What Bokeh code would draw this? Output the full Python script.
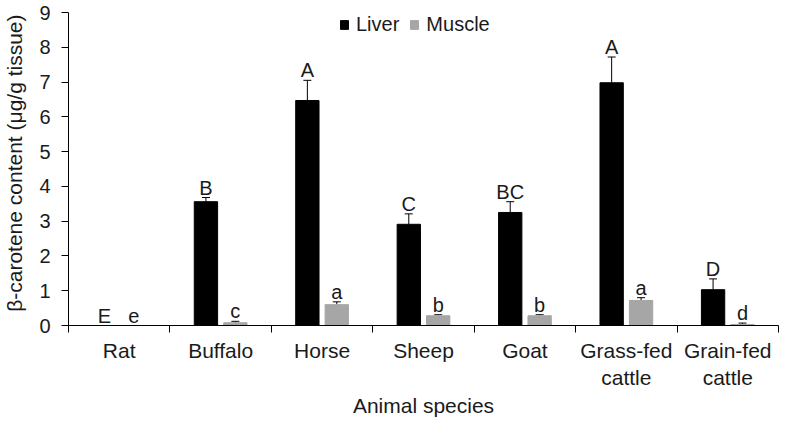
from bokeh.plotting import figure
from bokeh.models import Range1d, FixedTicker, Whisker, TeeHead, ColumnDataSource, Legend, LegendItem
from bokeh.core.properties import value
from bokeh.embed import file_html
from bokeh.resources import INLINE

species = ["Rat", "Buffalo", "Horse", "Sheep", "Goat", "Grass-fed\ncattle", "Grain-fed\ncattle"]
liver = [0.0, 3.56, 6.47, 2.91, 3.25, 6.98, 1.03]
liver_err = [0.0, 0.12, 0.58, 0.30, 0.31, 0.74, 0.31]
muscle = [0.0, 0.08, 0.60, 0.28, 0.28, 0.72, 0.03]
muscle_err = [0.0, 0.04, 0.08, 0.03, 0.03, 0.08, 0.04]
liver_letters = ["E", "B", "A", "C", "BC", "A", "D"]
muscle_letters = ["e", "c", "a", "b", "b", "a", "d"]
y_ticks = [0, 1, 2, 3, 4, 5, 6, 7, 8, 9]

FONT = "Liberation Sans"
TXT = "#1a1a1a"
GRAY = "#a6a6a6"
OFF = 0.145
W = 0.23

n = len(species)
centers = [i + 0.5 for i in range(n)]
bounds = [i for i in range(0, n + 1)]
xl = [c - OFF for c in centers]
xm = [c + OFF for c in centers]

p = figure(frame_width=710, frame_height=313, x_range=Range1d(0, n), y_range=Range1d(0, 9),
           output_backend="svg", toolbar_location=None,
           min_border_left=65, min_border_right=3, min_border_top=12, min_border_bottom=80)
p.outline_line_color = None
p.xgrid.grid_line_color = None
p.ygrid.grid_line_color = None

src_l = ColumnDataSource(dict(x=xl, top=liver, up=[a + b for a, b in zip(liver, liver_err)],
                              lab=liver_letters))
src_m = ColumnDataSource(dict(x=xm, top=muscle, up=[a + b for a, b in zip(muscle, muscle_err)],
                              lab=muscle_letters))

rl = p.vbar(x="x", top="top", width=W, source=src_l, fill_color="black", line_color="black")
rm = p.vbar(x="x", top="top", width=W, source=src_m, fill_color=GRAY, line_color=GRAY)

for src in (src_l, src_m):
    w = Whisker(base="x", lower="top", upper="up", source=src, dimension="height",
                line_color="black", line_width=1,
                upper_head=TeeHead(size=8, line_color="black", line_width=1), lower_head=None)
    p.add_layout(w)

for src in (src_l, src_m):
    p.text(x="x", y="up", text="lab", source=src, text_font=value(FONT), text_font_size="20px",
           text_align="center", text_baseline="alphabetic", y_offset=-10, text_color=TXT)

xa = p.xaxis[0]
xa.ticker = FixedTicker(ticks=centers, minor_ticks=bounds)
xa.major_label_overrides = {c: s for c, s in zip(centers, species)}
xa.major_tick_out = 0
xa.major_tick_in = 0
xa.minor_tick_out = 7
xa.minor_tick_in = 0
xa.minor_tick_line_color = "black"
xa.axis_line_color = "black"
xa.major_label_text_font = FONT
xa.major_label_text_font_size = "21px"
xa.major_label_text_color = TXT
xa.major_label_standoff = 6
xa.axis_label = "Animal species"
xa.axis_label_text_font = FONT
xa.axis_label_text_font_size = "21px"
xa.axis_label_text_font_style = "normal"
xa.axis_label_text_color = TXT
xa.axis_label_standoff = 2

ya = p.yaxis[0]
ya.ticker = FixedTicker(ticks=y_ticks)
ya.major_tick_out = 7
ya.major_tick_in = 0
ya.minor_tick_out = 0
ya.minor_tick_in = 0
ya.axis_line_color = "black"
ya.major_tick_line_color = "black"
ya.major_label_text_font = FONT
ya.major_label_text_font_size = "20px"
ya.major_label_text_color = TXT
ya.major_label_standoff = 11
ya.axis_label = "\u00a0\u00a0β-carotene content (μg/g tissue)"
ya.axis_label_text_font = FONT
ya.axis_label_text_font_size = "21px"
ya.axis_label_text_font_style = "normal"
ya.axis_label_text_color = TXT
ya.axis_label_standoff = 10

legend = Legend(items=[LegendItem(label="Liver", renderers=[rl]),
                       LegendItem(label="Muscle", renderers=[rm])],
                location=(271, 289), orientation="horizontal",
                border_line_color=None, background_fill_alpha=0,
                label_text_font=FONT, label_text_font_size="20px", label_text_color=TXT,
                glyph_width=10, glyph_height=11, label_standoff=7, spacing=10,
                padding=0, margin=0)
p.add_layout(legend)

open("out.html", "w").write(file_html(p, INLINE))
